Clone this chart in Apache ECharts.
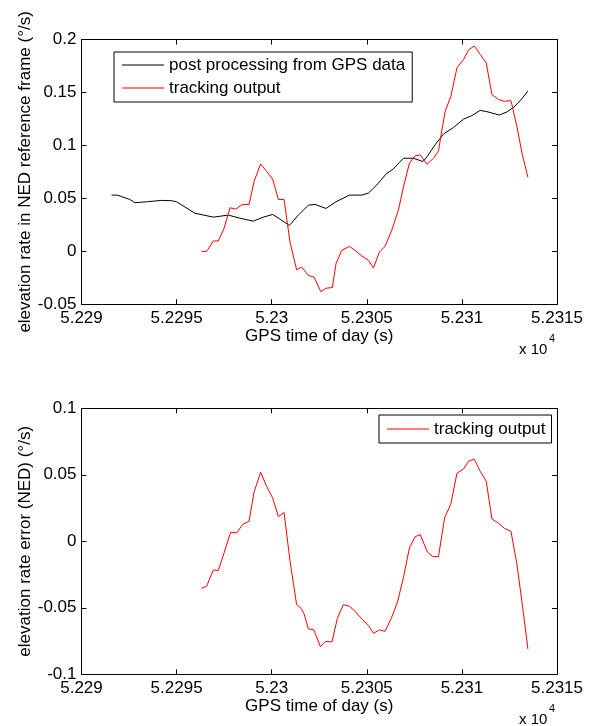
<!DOCTYPE html>
<html>
<head>
<meta charset="utf-8">
<script src="https://cdn.jsdelivr.net/npm/echarts@6/dist/echarts.min.js"></script>
<style>
  html, body { margin: 0; padding: 0; background: #fff; }
  #container { width: 595px; height: 726px; }
</style>
</head>
<body>
<div id="container"></div>
<script>
  // GPS time of day (s) and elevation rate (deg/s)
  var gpsTime = [52291.58, 52291.88, 52292.54, 52292.81, 52293.42, 52294.21, 52294.74, 52295.0, 52295.96, 52296.93,
    52297.72, 52298.33, 52299.03, 52299.56, 52300.05, 52300.44, 52300.93, 52301.40, 52301.93, 52302.28,
    52302.85, 52303.38, 52304.09, 52304.74, 52305.09, 52305.52, 52306.02, 52306.37, 52306.93, 52307.45,
    52307.95, 52308.16, 52308.59, 52309.03, 52309.56, 52310.09, 52310.52, 52310.96, 52311.31, 52311.96,
    52312.37, 52312.72, 52313.07, 52313.47]
  var gpsRate = [0.0531, 0.0531, 0.049, 0.0459, 0.0468, 0.0481, 0.0478, 0.0468, 0.036, 0.0323,
    0.0342, 0.0313, 0.0285, 0.0323, 0.0348, 0.0304, 0.0244, 0.0342, 0.0436, 0.0443,
    0.0405, 0.0468, 0.0531, 0.0531, 0.055, 0.0626, 0.0731, 0.0775, 0.0879, 0.0879,
    0.0848, 0.0892, 0.1006, 0.1107, 0.117, 0.1249, 0.1281, 0.1331, 0.1319, 0.1287,
    0.1316, 0.136, 0.1423, 0.1513]

  var trackTime = [52296.31, 52296.58, 52296.93, 52297.19, 52297.49, 52297.81, 52298.12, 52298.45, 52298.81, 52299.07,
    52299.42, 52299.74, 52300.05, 52300.35, 52300.65, 52300.96, 52301.31, 52301.58, 52301.93, 52302.23,
    52302.58, 52302.86, 52303.19, 52303.38, 52303.68, 52304.09, 52304.38, 52304.74, 52305.09, 52305.35,
    52305.66, 52305.96, 52306.31, 52306.66, 52306.93, 52307.24, 52307.54, 52307.81, 52308.16, 52308.51,
    52308.77, 52308.95, 52309.12, 52309.42, 52309.74, 52310.09, 52310.35, 52310.65, 52310.96, 52311.28,
    52311.58, 52311.93, 52312.23, 52312.58, 52312.89, 52313.16, 52313.47]
  var trackRate = [0, 0, 0.0098, 0.0098, 0.0215, 0.0411, 0.0398, 0.0443, 0.0443, 0.0658,
    0.0825, 0.0753, 0.0683, 0.049, 0.049, 0.0089, -0.0174, -0.0149, -0.0228, -0.0244,
    -0.038, -0.0348, -0.0342, -0.0117, 0.0009, 0.0047, 0.0009, -0.0044, -0.0085, -0.0158,
    -0.0006, 0.0047, 0.0199, 0.0389, 0.061, 0.0832, 0.0901, 0.0911, 0.0822, 0.0879,
    0.0949, 0.1148, 0.1322, 0.1464, 0.1733, 0.1812, 0.1901, 0.1939, 0.186, 0.178,
    0.148, 0.1433, 0.1417, 0.1423, 0.118, 0.0927, 0.0699]

  var errTime = [52296.31, 52296.58, 52296.93, 52297.19, 52297.49, 52297.84, 52298.16, 52298.47, 52298.81, 52299.07,
    52299.42, 52299.74, 52300.05, 52300.35, 52300.65, 52300.96, 52301.31, 52301.55, 52301.70, 52301.93,
    52302.21, 52302.56, 52302.83, 52303.17, 52303.45, 52303.77, 52304.09, 52304.38, 52304.74, 52305.09,
    52305.35, 52305.66, 52305.96, 52306.31, 52306.61, 52306.93, 52307.24, 52307.54, 52307.81, 52308.19,
    52308.47, 52308.77, 52309.09, 52309.42, 52309.74, 52310.09, 52310.35, 52310.65, 52310.96, 52311.28,
    52311.58, 52311.93, 52312.23, 52312.58, 52312.89, 52313.16, 52313.47]
  var errRate = [-0.0353, -0.0338, -0.0215, -0.022, -0.009, 0.0068, 0.0063, 0.0126, 0.0151, 0.0369,
    0.0519, 0.0411, 0.0326, 0.0186, 0.0216, -0.0145, -0.0476, -0.0505, -0.0546, -0.0659,
    -0.0665, -0.0792, -0.0752, -0.0757, -0.058, -0.0476, -0.0489, -0.0526, -0.0584, -0.0634,
    -0.0692, -0.0666, -0.0677, -0.0571, -0.0458, -0.027, -0.005, 0.0035, 0.005, -0.0082,
    -0.0115, -0.0115, 0.0176, 0.0281, 0.0512, 0.0544, 0.0602, 0.0617, 0.0527, 0.0451,
    0.0168, 0.0136, 0.0098, 0.0075, -0.017, -0.0458, -0.0809]

  var xTicks = [52290, 52315, 5]
  var yTicksTop = [-0.05, 0.2, 0.05]
  var yTicksBottom = [-0.1, 0.1, 0.05]

  var font = '"Liberation Sans", Arial, sans-serif'
  var fs = 17

  function zip(xs, ys) {
    let out = []
    for (let i = 0; i < xs.length; i++) out.push([xs[i], ys[i]])
    return out
  }

  // main axis (with labels) or the mirrored box side (ticks only)
  function xAxis(grid, side, showName) {
    return {
      type: 'value', gridIndex: grid, position: side,
      min: xTicks[0], max: xTicks[1], interval: xTicks[2],
      name: showName ? 'GPS time of day (s)' : '',
      nameLocation: 'middle', nameGap: 24,
      nameTextStyle: { color: '#000', fontFamily: font, fontSize: fs },
      axisLine: { show: true, onZero: false, lineStyle: { color: '#000', width: 1 } },
      axisTick: { show: true, inside: true, length: 5, lineStyle: { color: '#000' } },
      axisLabel: {
        show: side === 'bottom', margin: 6, color: '#000', fontFamily: font, fontSize: fs,
        formatter: function (v) { return String(+(v / 10000).toFixed(4)) }
      },
      splitLine: { show: false }
    }
  }

  function yAxis(grid, side, ticks, name) {
    return {
      type: 'value', gridIndex: grid, position: side,
      min: ticks[0], max: ticks[1], interval: ticks[2],
      name: name || '', nameLocation: 'middle', nameGap: 48, nameMoveOverlap: false,
      nameTextStyle: { color: '#000', fontFamily: font, fontSize: fs },
      axisLine: { show: true, onZero: false, lineStyle: { color: '#000', width: 1 } },
      axisTick: { show: true, inside: true, length: 5, lineStyle: { color: '#000' } },
      axisLabel: {
        show: side === 'left', margin: 5, color: '#000', fontFamily: font, fontSize: fs,
        formatter: function (v) { return String(+v.toFixed(4)) }
      },
      splitLine: { show: false }
    }
  }

  let dom = document.getElementById('container')
  let myChart = echarts.init(dom)
  myChart.setOption({
    animation: false,
    backgroundColor: '#fff',
    grid: [
      { left: 81.5, top: 39.5, width: 475.5, height: 264.8 },
      { left: 81.5, top: 408.3, width: 475.5, height: 266 }
    ],
    xAxis: [xAxis(0, 'bottom', true), xAxis(0, 'top', false), xAxis(1, 'bottom', true), xAxis(1, 'top', false)],
    yAxis: [
      yAxis(0, 'left', yTicksTop, 'elevation rate in NED reference frame (°/s)'),
      yAxis(0, 'right', yTicksTop),
      yAxis(1, 'left', yTicksBottom, 'elevation rate error (NED) (°/s)'),
      yAxis(1, 'right', yTicksBottom)
    ],
    legend: [{
      orient: 'vertical', left: 114, top: 52,
      padding: [4, 7, 5, 8], itemGap: 5, itemWidth: 42, itemHeight: 1, icon: 'rect',
      borderColor: '#000', borderWidth: 1, borderRadius: 0, backgroundColor: '#fff',
      textStyle: { color: '#000', fontFamily: font, fontSize: fs, lineHeight: 18 },
      data: ['post processing from GPS data', 'tracking output']
    }, {
      orient: 'vertical', left: 379, top: 415,
      padding: [5, 6, 5, 8], itemWidth: 42, itemHeight: 1, icon: 'rect',
      borderColor: '#000', borderWidth: 1, borderRadius: 0, backgroundColor: '#fff',
      textStyle: { color: '#000', fontFamily: font, fontSize: fs, lineHeight: 18 },
      data: ['tracking output']
    }],
    graphic: [
      { type: 'text', left: 519, top: 342, style: { text: 'x 10', fill: '#000', font: '15px ' + font } },
      { type: 'text', left: 549, top: 333, style: { text: '4', fill: '#000', font: '11px ' + font } },
      { type: 'text', left: 519, top: 712, style: { text: 'x 10', fill: '#000', font: '15px ' + font } },
      { type: 'text', left: 549, top: 703, style: { text: '4', fill: '#000', font: '11px ' + font } }
    ],
    series: [{
      name: 'post processing from GPS data',
      type: 'line', xAxisIndex: 0, yAxisIndex: 0,
      symbol: 'none', lineStyle: { color: '#000', width: 1 }, itemStyle: { color: '#000' },
      data: zip(gpsTime, gpsRate)
    }, {
      name: 'tracking output',
      type: 'line', xAxisIndex: 0, yAxisIndex: 0,
      symbol: 'none', lineStyle: { color: '#ff0000', width: 1 }, itemStyle: { color: '#ff0000' },
      data: zip(trackTime, trackRate)
    }, {
      name: 'tracking output',
      type: 'line', xAxisIndex: 2, yAxisIndex: 2,
      symbol: 'none', lineStyle: { color: '#ff0000', width: 1 }, itemStyle: { color: '#ff0000' },
      data: zip(errTime, errRate)
    }]
  })
</script>
</body>
</html>
